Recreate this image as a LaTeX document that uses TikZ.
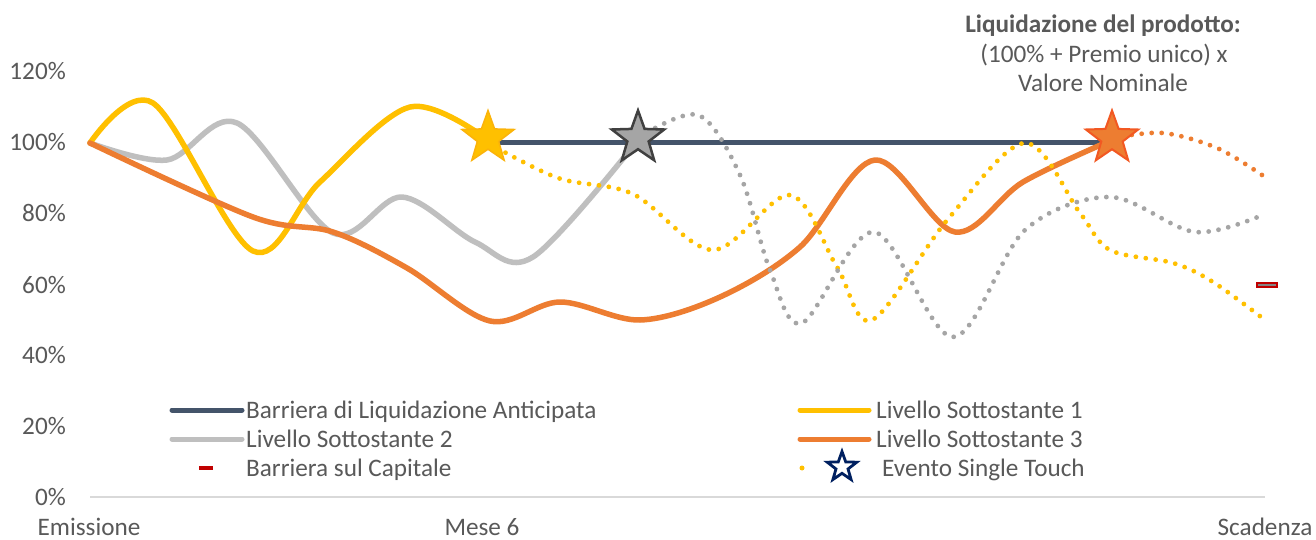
\documentclass[tikz,border=0pt]{standalone}
\usepackage{fontspec}
\setmainfont{Carlito}
\usetikzlibrary{shapes.geometric}
\definecolor{barcol}{HTML}{44546A}
\definecolor{yel}{HTML}{FFC000}
\definecolor{grl}{HTML}{BFBFBF}
\definecolor{grd}{HTML}{A5A5A5}
\definecolor{ora}{HTML}{ED7D31}
\definecolor{txt}{HTML}{595959}
\definecolor{redc}{HTML}{C00000}
\definecolor{navy}{HTML}{002060}
\definecolor{axc}{HTML}{D9D9D9}
\tikzset{
  lbl/.style={inner sep=0pt, text=txt, font=\fontsize{25.2}{30}\selectfont},
  solidline/.style={line width=5.5pt, line cap=round, line join=round},
  dotline/.style={line width=4.8pt, line cap=round, dash pattern=on 0pt off 10pt},
  starbase/.style={star, star points=5, star point ratio=2.45, minimum size=55pt, inner sep=0pt},
  legline/.style={line width=5pt, line cap=round},
}
\begin{document}
\begin{tikzpicture}[x=1pt,y=-1pt]
\useasboundingbox[fill=white] (0,0) rectangle (1316,540);

% axis
\coordinate (ax0) at (90,497);
\coordinate (ax1) at (1265,497);
\draw[axc, line width=1.5pt] (ax0) -- (ax1);

% y labels
\foreach \v/\yy in {120/72,100/143,80/214,60/285,40/355,20/426,0/497}{
  \node[lbl, anchor=base east] (y\v) at (66,\yy+8) {\v\%};
}
% x labels
\node[lbl, anchor=base] (xe) at (89,535) {Emissione};
\node[lbl, anchor=base] (xm) at (482,535) {Mese 6};
\node[lbl, anchor=base] (xs) at (1265,535) {Scadenza};

% title
\node[lbl, anchor=base, font=\fontsize{25.2}{30}\selectfont\bfseries] (t1) at (1103,33) {Liquidazione del prodotto:};
\node[lbl, anchor=base] (t2) at (1104,63) {(100\% + Premio unico) x};
\node[lbl, anchor=base] (t3) at (1103,92) {Valore Nominale};

% barrier line
\coordinate (b1) at (488,143);
\coordinate (b2) at (1112,143);
\draw[barcol, line width=5pt] (b1) -- (b2);

% gray solid
\draw[grl, solidline] plot[smooth, tension=0.55] coordinates {(90,143) (167,160) (237,123) (333,233) (402,197) (475,242) (533,257) (638,140)};
% yellow solid
\draw[yel, solidline] plot[smooth, tension=0.55] coordinates {(90,143) (153,103) (253,251) (320,182) (410,107) (488,140)};
% orange solid
\draw[ora, solidline] plot[smooth, tension=0.55] coordinates {(90,143) (253,217) (333,232) (407,268) (490,321) (560,302) (640,320) (720,297) (800,247) (875,160) (955,232) (1023,182) (1112,140)};

% dotted
\draw[yel, dotline] plot[smooth, tension=0.55] coordinates {(488,143) (558,178) (633,194) (713,250) (790,195) (837,267) (872,320) (948,219) (1025,143) (1080,213) (1110,250) (1173,263) (1213,282) (1265,320)};
\draw[grd, dotline] plot[smooth, tension=0.55] coordinates {(638,138) (698,115) (740,175) (770,270) (802,323) (874,232) (953,337) (1025,230) (1110,197) (1195,232) (1265,214)};
\draw[ora, dotline] plot[smooth, tension=0.55] coordinates {(1112,138) (1163,133) (1217,148) (1262,175)};

% capital barrier marker
\node[draw=redc, fill=grd!80!black, line width=1.5pt, minimum width=20pt, minimum height=4pt, inner sep=0pt] (cap) at (1267,285) {};

% stars
\node[starbase, fill=yel, draw=yel!80!ora, line width=1.5pt] (ystar) at (488,138) {};
\node[starbase, fill=grd, draw=black!75, line width=2.5pt] (gstar) at (638,138) {};
\node[starbase, fill=ora, draw=ora!70!red, line width=2pt] (ostar) at (1112,138) {};

% legend
\coordinate (l1a) at (172,410); \coordinate (l1b) at (242,410);
\draw[barcol, legline] (l1a) -- (l1b);
\node[lbl, anchor=base west] (lt1) at (246,418) {Barriera di Liquidazione Anticipata};
\coordinate (l2a) at (172,439); \coordinate (l2b) at (242,439);
\draw[grl, legline] (l2a) -- (l2b);
\node[lbl, anchor=base west] (lt2) at (246,447) {Livello Sottostante 2};
\node[fill=redc, minimum width=14pt, minimum height=4.5pt, inner sep=0pt] (lcap) at (206,468) {};
\node[lbl, anchor=base west] (lt3) at (246,476) {Barriera sul Capitale};

\coordinate (r1a) at (800,410); \coordinate (r1b) at (869,410);
\draw[yel, legline] (r1a) -- (r1b);
\node[lbl, anchor=base west] (rt1) at (876,418) {Livello Sottostante 1};
\coordinate (r2a) at (800,439); \coordinate (r2b) at (869,439);
\draw[ora, legline] (r2a) -- (r2b);
\node[lbl, anchor=base west] (rt2) at (876,447) {Livello Sottostante 3};
\node[circle, fill=yel, minimum size=5pt, inner sep=0pt] (rdot) at (802,468) {};
\node[star, star points=5, star point ratio=2.45, minimum size=31pt, inner sep=0pt, draw=navy, fill=white, line width=2.8pt] (rstar) at (842,467) {};
\node[lbl, anchor=base west] (rt3) at (882,476) {Evento Single Touch};
\end{tikzpicture}
\end{document}
